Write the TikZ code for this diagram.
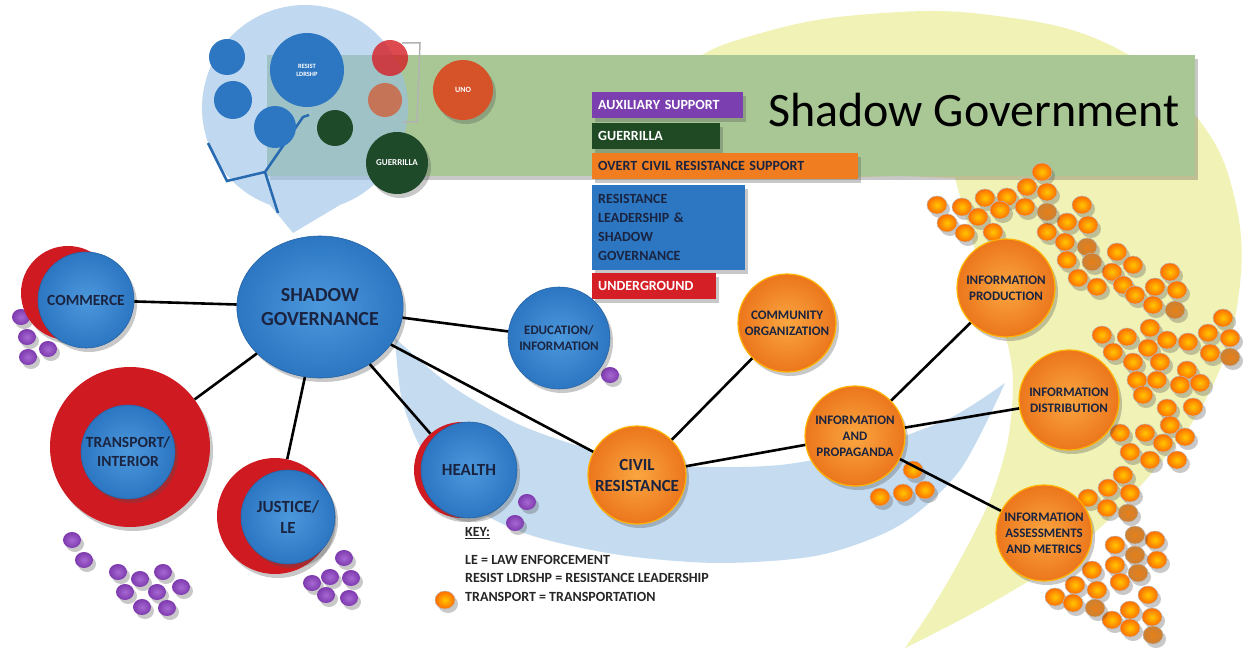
\documentclass[tikz,border=0pt]{standalone}
\usepackage{fontspec}
\setmainfont{Carlito}
\usetikzlibrary{shapes.geometric,shadows}
\definecolor{nblue}{HTML}{2C76C2}
\definecolor{nbluein}{HTML}{4C98DC}
\definecolor{nred}{HTML}{D01A22}
\definecolor{norange}{HTML}{EC761C}
\definecolor{noranin}{HTML}{FAA640}
\definecolor{npurple}{HTML}{7E3AAE}
\definecolor{npurpin}{HTML}{A668D2}
\definecolor{ngreen}{HTML}{1E4A2A}
\definecolor{cbanner}{HTML}{A8C794}
\definecolor{cpale}{HTML}{F0F2B6}
\definecolor{clblue}{HTML}{C4DBF0}
\definecolor{cbubble}{HTML}{98C0E6}
\definecolor{ctxt}{HTML}{1A2440}
\definecolor{cpurp}{HTML}{7B3FB0}
\definecolor{cgreen}{HTML}{1F4A24}
\definecolor{corange}{HTML}{F07D1F}
\definecolor{cred}{HTML}{D51F26}
\definecolor{cuno}{HTML}{D6532A}
\newcommand\labfont{\bfseries\fontsize{13}{16}\selectfont}
\newcommand\midfont{\bfseries\fontsize{15.5}{19}\selectfont}
\newcommand\bigfont{\bfseries\fontsize{17}{21}\selectfont}
\newcommand\sgfont{\bfseries\fontsize{20}{24}\selectfont}
\newcommand\boxfont{\bfseries\fontsize{14}{19}\selectfont}
\newcommand\keyfont{\bfseries\fontsize{14}{17}\selectfont}
\begin{document}
\begin{tikzpicture}[x=1pt,y=-1pt,
  sh/.style={drop shadow={shadow xshift=3pt,shadow yshift=-4pt,opacity=0.3,fill=black!70}},
  bnode/.style={circle,inner color=nbluein,outer color=nblue,draw=nblue!85!black,line width=0.6,sh,font=\labfont,text=ctxt,align=center,inner sep=1},
  rnode/.style={circle,fill=nred,sh,inner sep=0},
  onode/.style={circle,inner color=noranin,outer color=norange,draw=orange!60!yellow,line width=1.2,sh,font=\labfont,text=ctxt,align=center,inner sep=1},
  link/.style={line width=2.6,black},
  pdot/.style={inner color=npurpin,outer color=npurple,sh},
  odot/.style={inner color=yellow!55!orange,outer color=orange!85!red,draw=gray!55,line width=0.5,sh},
  ddot/.style={inner color=orange!60!brown,outer color=brown!80!orange,draw=gray!55,line width=0.5,sh},
  lbox/.style={rectangle,anchor=north west,inner xsep=6,inner ysep=0,minimum height=26,font=\boxfont,align=left,sh},
  keytxt/.style={anchor=west,font=\keyfont,text=black!85,inner sep=0},
  small/.style={circle,inner sep=0,align=center,text=white}]
\useasboundingbox (0,0) rectangle (1246,660);
\fill[white] (0,0) rectangle (1246,660);
% yellow speech shape
\fill[cpale] plot[smooth,tension=0.7] coordinates {(905,648) (1000,598) (1080,545) (1150,475) (1208,395) (1238,300) (1235,200) (1195,115) (1110,45) (990,15) (870,14) (765,32) (690,65) (680,120) (720,170) (900,176)} -- plot[smooth] coordinates {(955,178) (978,260) (1005,335) (1013,380) (1008,440) (990,500) (960,560) (932,608) (905,648)} -- cycle;
% light blue crescent
\fill[clblue] plot[smooth] coordinates {(395,338) (402,400) (425,455) (470,505) (530,535) (620,555) (720,563) (820,555) (900,525) (960,470) (1005,383)} -- plot[smooth] coordinates {(1005,383) (950,418) (870,447) (780,465) (680,466) (600,452) (520,425) (450,385) (395,338)} -- cycle;
% banner
\fill[cbanner,sh] (267,55) rectangle (1195,176);
% speech bubble
\fill[cbubble,opacity=0.6] (293,233) -- (269.8,204.8) arc[start angle=110,end angle=430,radius=103] -- cycle;
\draw[gray!60,line width=1.5] (402,43) -- (420,43) -- (417,122) -- (403,122);
\draw[nblue!90!black,line width=2.5] (208,143) -- (227,181) -- (265,172) -- (303,117) -- (309,115);
\draw[nblue!90!black,line width=2.5] (265,172) -- (278,213);
\node[small,fill=nblue,minimum size=36] (b1) at (227,57) {};
\node[small,fill=nblue,minimum size=38] (b2) at (233,100) {};
\node[small,fill=nblue,minimum size=42] (b3) at (275,127) {};
\node[small,fill=nblue,minimum size=74,font=\bfseries\fontsize{6.5}{8}\selectfont] (rl) at (307,70) {RESIST\\LDRSHP};
\node[small,fill=ngreen,minimum size=36] (g1) at (335,128) {};
\node[small,fill=cred,opacity=0.8,minimum size=36] (r1) at (390,58) {};
\node[small,fill=cuno,opacity=0.7,minimum size=34] (r2) at (385,100) {};
\node[small,fill=cuno,minimum size=60,sh,font=\bfseries\fontsize{8}{10}\selectfont] (uno) at (463,90) {UNO};
\node[small,fill=ngreen,minimum size=62,sh,font=\bfseries\fontsize{9}{11}\selectfont] (gue) at (397,163) {GUERRILLA};
% legend boxes
\node[lbox,fill=cpurp,text=white,text width=139] (aux) at (592,92) {AUXILIARY SUPPORT};
\node[lbox,fill=cgreen,text=white,text width=116] (gur) at (592,123) {GUERRILLA};
\node[lbox,fill=corange,text=ctxt,text width=254] (ovt) at (592,153) {OVERT CIVIL RESISTANCE SUPPORT};
\node[lbox,fill=nblue,text=ctxt,text width=141,inner ysep=7,minimum height=85] (rsl) at (592,185) {RESISTANCE\\LEADERSHIP \&\\SHADOW\\GOVERNANCE};
\node[lbox,fill=cred,text=white,text width=112] (und) at (592,273) {UNDERGROUND};
\node[anchor=west,font=\fontsize{48}{50}\selectfont,inner sep=0] (title) at (768,110) {Shadow Government};
% right dots
\foreach \x/\y in {1042/172,1027/187,1047/192,937/205,962/207,985/198,1007/197,1000/210,1025/207,1082/205,947/223,978/217,965/233,993/232,1047/232,1067/222,1088/225,1065/242,1067/260,1117/252,1133/265,1078/278,1097/287,1112/272,1123/285,1135/295,1155/287,1170/272,1177/290,1153/305,1223/318,1102/335,1127/337,1150/328,1167/340,1188/342,1208/333,1230/338,1113/352,1133/362,1148/348,1160/362,1187/370,1210/353,1137/380,1157/380,1180/385,1200/383,1143/395,1167/408,1193/407,1170/425,1120/433,1145/433,1163/443,1185/437,1130/452,1150/460,1177/460,1123/475,1108/488,1130/493,1088/498,1107/508,1155/540,1115/545,1157/560,1115/565,1092/570,1120/582,1075/585,1097/590,1055/597,1148/595,1073/603,1130/610,1152/617,1112/620,1130/628,913/470,880/497,903/493,925/490}
  \path[odot] (\x,\y) ellipse[x radius=10,y radius=9];
\foreach \x/\y in {1047/212,1087/247,1092/262,1175/310,1230/357,1128/513,1135/535,1135/555,1138/573,1095/608,1153/635}
  \path[ddot] (\x,\y) ellipse[x radius=10,y radius=9];
% purple dots
\foreach \x/\y in {21/317,27/337,48/349,28/357,72/540,84/560,118/572,140/579,163/572,181/587,125/592,157/592,142/607,167/608,344/558,312/583,330/577,351/578,326/595,349/598,527/502,515/523,610/375}
  \path[pdot] (\x,\y) ellipse[x radius=9,y radius=8];
% main nodes
\node[rnode,minimum size=94] (comr) at (68,293) {};
\node[bnode,minimum size=96,font=\midfont] (com) at (86,300) {COMMERCE};
\node[rnode,minimum size=160] (trr) at (130,447) {};
\node[bnode,minimum size=94,font=\midfont] (tr) at (128,452) {TRANSPORT/\\INTERIOR};
\node[rnode,minimum size=116] (jur) at (275,516) {};
\node[bnode,minimum size=94,font=\bigfont] (ju) at (288,517) {JUSTICE/\\LE};
\node[rnode,minimum size=96] (her) at (462,470) {};
\node[bnode,minimum size=96,font=\bigfont] (he) at (469,470) {HEALTH};
\node[bnode,minimum size=102] (edu) at (559,338) {EDUCATION/\\INFORMATION};
\node[bnode,ellipse,minimum width=162,minimum height=142,inner sep=0,font=\sgfont] (sg) at (320,307) {SHADOW\\GOVERNANCE};
\node[onode,minimum size=98,font=\bigfont] (civ) at (637,475) {CIVIL\\RESISTANCE};
\node[onode,minimum size=98] (cmo) at (787,323) {COMMUNITY\\ORGANIZATION};
\node[onode,minimum size=100] (prop) at (855,436) {INFORMATION\\AND\\PROPAGANDA};
\node[onode,minimum size=98] (prod) at (1006,288) {INFORMATION\\PRODUCTION};
\node[onode,minimum size=100] (dist) at (1069,400) {INFORMATION\\DISTRIBUTION};
\node[onode,minimum size=96] (asse) at (1044,533) {INFORMATION\\ASSESSMENTS\\AND METRICS};
% connectors
\draw[link] (sg) -- (com);
\draw[link] (sg) -- (trr);
\draw[link] (sg) -- (jur);
\draw[link] (sg) -- (her);
\draw[link] (sg) -- (edu);
\draw[link] (sg) -- (civ);
\draw[link] (civ) -- (cmo);
\draw[link] (civ) -- (prop);
\draw[link] (prop) -- (prod);
\draw[link] (prop) -- (dist);
\draw[link] (prop) -- (asse);
% key
\path[odot] (445,600) ellipse[x radius=10,y radius=9];
\node[keytxt] (k0) at (465,533) {\underline{KEY:}};
\node[keytxt] (k1) at (465,560) {LE = LAW ENFORCEMENT};
\node[keytxt] (k2) at (465,578) {RESIST LDRSHP = RESISTANCE LEADERSHIP};
\node[keytxt] (k3) at (465,597) {TRANSPORT = TRANSPORTATION};
\end{tikzpicture}
\end{document}
